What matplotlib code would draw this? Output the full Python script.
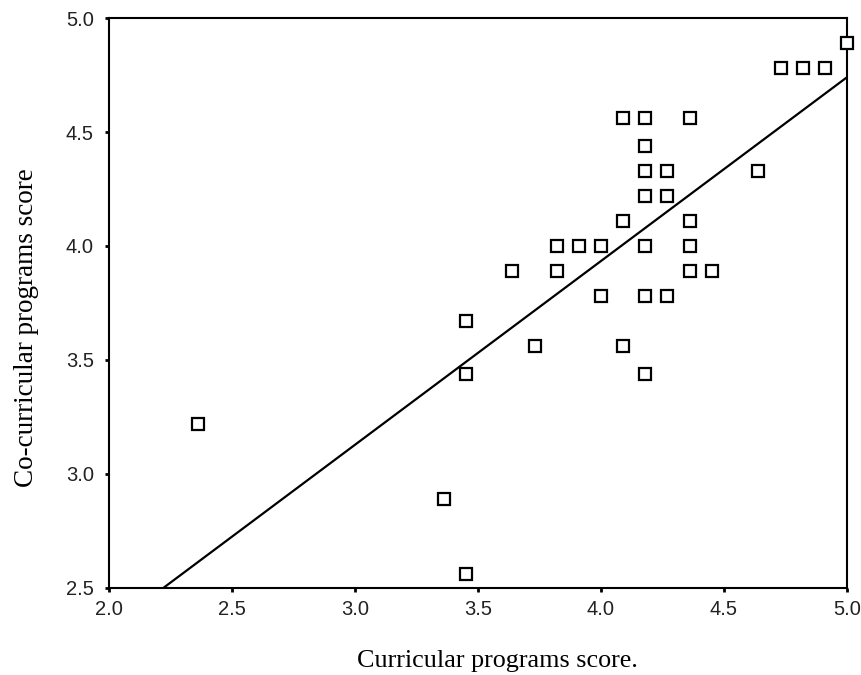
import numpy as np
import matplotlib
matplotlib.use("Agg")
import matplotlib.pyplot as plt

# curricular (x) vs co-curricular (y) scores
curricular = [2.36, 3.36, 3.45, 3.45, 3.45, 3.64, 3.73, 3.82, 3.82, 3.91,
              4.00, 4.00, 4.09, 4.09, 4.09, 4.18, 4.18, 4.18, 4.18, 4.18,
              4.18, 4.18, 4.27, 4.27, 4.27, 4.36, 4.36, 4.36, 4.36, 4.45,
              4.64, 4.73, 4.82, 4.91, 5.00]
cocurricular = [3.22, 2.89, 2.56, 3.44, 3.67, 3.89, 3.56, 4.00, 3.89, 4.00,
                4.00, 3.78, 4.56, 4.11, 3.56, 4.56, 4.44, 4.33, 4.22, 4.00,
                3.78, 3.44, 4.33, 4.22, 3.78, 4.56, 4.11, 4.00, 3.89, 3.89,
                4.33, 4.78, 4.78, 4.78, 4.89]
xticks = [2.0, 2.5, 3.0, 3.5, 4.0, 4.5, 5.0]
yticks = [2.5, 3.0, 3.5, 4.0, 4.5, 5.0]

# fit line
fit_slope = 0.806
fit_intercept = 0.71

x = np.array(curricular)
y = np.array(cocurricular)

fig = plt.figure(figsize=(8.62, 6.75), dpi=100)
ax = fig.add_axes([0.1265, 0.129, 0.856, 0.8443])

# fit line, starting where it enters the plot at y=2.5
x0 = (2.5 - fit_intercept) / fit_slope
xs = np.array([x0, 5.0])
ax.plot(xs, fit_intercept + fit_slope * xs, color="black", lw=1.6, zorder=2)

ax.plot(x, y, linestyle="none", marker="s", markersize=9,
        markerfacecolor="white", markeredgecolor="black",
        markeredgewidth=1.6, clip_on=False, zorder=3)

ax.set_xlim(2.0, 5.0)
ax.set_ylim(2.5, 5.0)
ax.set_xticks(xticks)
ax.set_yticks(yticks)
ax.set_xticklabels(["%.1f" % t for t in xticks], family="Liberation Sans",
                   fontsize=14.5, color="#222222")
ax.set_yticklabels(["%.1f" % t for t in yticks], family="Liberation Sans",
                   fontsize=14.5, color="#222222")
ax.tick_params(direction="out", length=3, width=2)
ax.tick_params(axis="x", pad=6)
ax.tick_params(axis="y", pad=8)

for s in ax.spines.values():
    s.set_linewidth(1.5)

ax.set_xlabel("Curricular programs score.", family="Liberation Serif",
              fontsize=18.8, labelpad=22)
ax.set_ylabel("Co-curricular programs score", family="Liberation Serif",
              fontsize=19.5, labelpad=19)
ax.xaxis.label.set_x(0.527)
ax.yaxis.label.set_y(0.456)

fig.savefig("out.png", dpi=100)
